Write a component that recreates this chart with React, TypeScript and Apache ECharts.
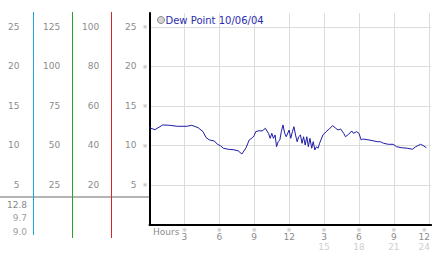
import React, { useEffect, useRef } from 'react';
import * as echarts from 'echarts';

const seriesName = 'Dew Point 10/06/04';
const xAxisName = 'Hours';

const hours = [
  0.0, 0.46, 1.14, 1.7, 2.39, 3.21, 3.63, 4.18, 4.6, 4.87,
  5.15, 5.57, 5.84, 6.09, 6.36, 6.78, 7.19, 7.61, 7.94, 8.3,
  8.57, 8.85, 8.99, 9.13, 9.4, 9.68, 9.96, 10.09, 10.23, 10.37,
  10.51, 10.65, 10.79, 10.92, 11.06, 11.2, 11.33, 11.47, 11.62, 11.75,
  12.0, 12.14, 12.28, 12.41, 12.55, 12.69, 12.82, 12.97, 13.11, 13.24,
  13.38, 13.52, 13.65, 13.79, 13.94, 14.07, 14.21, 14.35, 14.48, 14.62,
  14.9, 15.18, 15.45, 15.73, 16.01, 16.2, 16.42, 16.69, 16.84, 17.11,
  17.38, 17.52, 17.8, 18.0, 18.19, 18.33, 18.87, 19.29, 19.57, 19.84,
  20.12, 20.53, 20.94, 21.23, 21.64, 22.19, 22.6, 22.88, 23.3, 23.57,
  23.79,
];

const dewPoint = [
  12.25, 12.0, 12.6, 12.56, 12.43, 12.43, 12.56, 12.25, 11.75, 10.99,
  10.7, 10.57, 10.15, 9.97, 9.65, 9.52, 9.47, 9.34, 8.92, 9.72,
  10.7, 10.99, 11.24, 11.75, 11.87, 11.84, 12.18, 11.84, 11.54, 10.91,
  11.54, 10.91, 11.33, 9.85, 10.48, 10.7, 11.75, 12.6, 11.54, 11.11,
  11.96, 10.91, 11.75, 12.38, 11.33, 10.48, 11.11, 11.33, 10.28, 11.11,
  10.06, 11.11, 9.85, 10.91, 9.65, 10.48, 9.43, 9.85, 9.65, 10.28,
  11.33, 11.75, 12.09, 12.51, 12.18, 11.96, 12.09, 11.54, 11.11, 11.42,
  11.84, 11.54, 11.75, 11.54, 10.7, 10.82, 10.7, 10.57, 10.48, 10.48,
  10.28, 10.15, 10.15, 9.85, 9.72, 9.65, 9.52, 9.85, 10.15, 9.94,
  9.72,
];

const yTicks = [5, 10, 15, 20, 25];
const col1Ticks = [5, 10, 15, 20, 25];
const col2Ticks = [25, 50, 75, 100, 125];
const col3Ticks = [20, 40, 60, 80, 100];
const xTicks = [3, 6, 9, 12, 15, 18, 21, 24];
const xTickLabels = ['3', '6', '9', '12', '3', '6', '9', '12'];
const xTickLabels24 = ['', '', '', '', '15', '18', '21', '24'];
const summaryValues = ['12.8', '9.7', '9.0'];

const FONT = '"DejaVu Sans", Verdana, sans-serif';
const LABEL = '#8c8c8c';
const Y_MAX = 26.77;
const X_MAX = 24.2;

const findTick = (ticks: number[], v: number) => ticks.findIndex((t) => Math.abs(t - v) < 1e-6);

const colAxis = (ticks: number[], k: number, offset: number, margin: number) => ({
  type: 'value',
  gridIndex: 0,
  position: 'left',
  offset,
  min: 0,
  max: Y_MAX * k,
  interval: 5 * k,
  axisLine: { show: false },
  axisTick: { show: false },
  splitLine: { show: false },
  axisLabel: {
    margin,
    color: LABEL,
    fontSize: 9,
    fontFamily: FONT,
    formatter: (v: number) => {
      const i = findTick(ticks, v);
      return i < 0 ? '' : String(ticks[i]);
    },
  },
});

const vbar = (x: number, y1: number, y2: number, color: string) => ({
  type: 'rect',
  silent: true,
  z: 20,
  shape: { x, y: y1, width: 1, height: y2 - y1 },
  style: { fill: color, stroke: null },
});

const option: any = {
  animation: false,
  backgroundColor: '#fff',
  grid: { left: 149.5, right: 0, top: 13, bottom: 28.5, containLabel: false },
  legend: {
    left: 157,
    top: 15,
    padding: 0,
    itemWidth: 7,
    itemHeight: 7,
    icon: 'circle',
    data: [{ name: seriesName, itemStyle: { color: '#d4d4d4', borderColor: '#8a8a8a', borderWidth: 1 } }],
    textStyle: { color: '#2b2bb0', fontSize: 10, fontFamily: FONT, padding: [0, 0, 0, -4] },
  },
  xAxis: {
    type: 'value',
    min: 0,
    max: X_MAX,
    interval: 3,
    axisLine: { lineStyle: { color: '#000', width: 2 } },
    axisTick: { show: false },
    splitLine: { show: true, showMinLine: false, showMaxLine: false, lineStyle: { color: '#dcdcdc', width: 1 } },
    axisLabel: {
      margin: 2,
      showMaxLabel: false,
      formatter: (v: number) => {
        const i = findTick(xTicks, v);
        if (i < 0) return '';
        const s = i === xTicks.length - 1 ? 'e' : '';
        const lines = [`{t${s}|※}`, `{n${s}|${xTickLabels[i]}}`];
        if (xTickLabels24[i]) lines.push(`{g${s}|${xTickLabels24[i]}}`);
        return lines.join('\n');
      },
      rich: {
        t: { fontSize: 6, color: '#b0b0b0', lineHeight: 6, fontFamily: FONT },
        n: { fontSize: 9, color: LABEL, lineHeight: 9, fontFamily: FONT },
        g: { fontSize: 9, color: '#cfcfcf', lineHeight: 11, fontFamily: FONT },
        te: { fontSize: 6, color: '#b0b0b0', lineHeight: 6, fontFamily: FONT, padding: [0, 9, 0, 0] },
        ne: { fontSize: 9, color: LABEL, lineHeight: 9, fontFamily: FONT, padding: [0, 9, 0, 0] },
        ge: { fontSize: 9, color: '#cfcfcf', lineHeight: 11, fontFamily: FONT, padding: [0, 9, 0, 0] },
      },
    },
  },
  yAxis: [
    {
      type: 'value',
      min: 0,
      max: Y_MAX,
      interval: 5,
      axisLine: { show: true, lineStyle: { color: '#000', width: 2 } },
      axisTick: { show: false },
      splitLine: { show: true, showMinLine: false, showMaxLine: false, lineStyle: { color: '#dcdcdc', width: 1 } },
      axisLabel: {
        margin: 2,
        formatter: (v: number) => {
          const i = findTick(yTicks, v);
          return i < 0 ? '' : `{n|${yTicks[i]}}{t|※}`;
        },
        rich: {
          n: { fontSize: 9, color: LABEL, fontFamily: FONT },
          t: { fontSize: 6, color: '#b0b0b0', fontFamily: FONT, padding: [0, 0, 0, 6] },
        },
      },
    },
    colAxis(col3Ticks, 4, 38.2, 12),
    colAxis(col2Ticks, 5, 77.2, 12),
    colAxis(col1Ticks, 1, 116.5, 13.5),
  ],
  series: [
    {
      type: 'line',
      name: seriesName,
      yAxisIndex: 0,
      data: hours.map((h, i) => [h, dewPoint[i]]),
      showSymbol: false,
      symbol: 'none',
      lineStyle: { color: '#1c1ca6', width: 1 },
      itemStyle: { color: '#1c1ca6' },
    },
  ],
  graphic: [
    { type: 'rect', silent: true, z: 10, shape: { x: 0, y: 196, width: 149, height: 2 }, style: { fill: '#b4b4b4' } },
    vbar(33, 12, 235, '#1ea6dc'),
    vbar(72, 12, 238, '#2aa02a'),
    vbar(111, 12, 238, '#d42626'),
    ...summaryValues.map((t, i) => ({
      type: 'text',
      silent: true,
      x: 27,
      y: 205 + i * 13.4,
      style: {
        text: t,
        fill: i === 0 ? '#888' : '#a0a0a0',
        font: `9px ${FONT}`,
        textAlign: 'right',
        textVerticalAlign: 'middle',
      },
    })),
    {
      type: 'text',
      silent: true,
      x: 153,
      y: 232,
      style: { text: xAxisName, fill: LABEL, font: `9px ${FONT}`, textAlign: 'left', textVerticalAlign: 'middle' },
    },
  ],
};

export default function App() {
  const ref = useRef<HTMLDivElement>(null);
  useEffect(() => {
    const chart = echarts.init(ref.current!, null, { renderer: 'svg' });
    chart.setOption(option);
    return () => chart.dispose();
  }, []);
  return (
    <div
      ref={ref}
      style={{ position: 'fixed', left: 0, top: 0, width: 442, height: 253, background: '#fff' }}
    />
  );
}
